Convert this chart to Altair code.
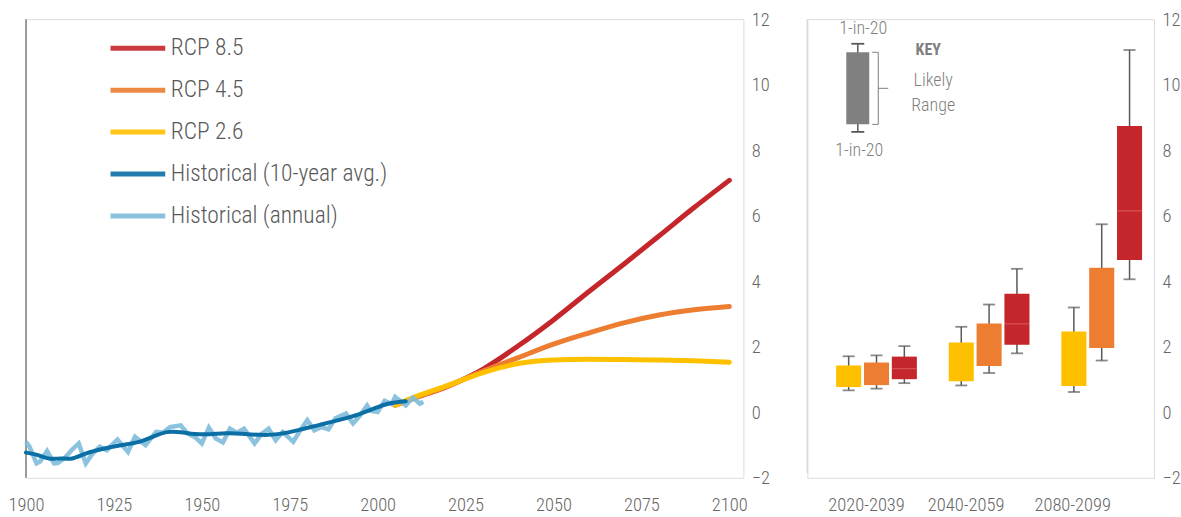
import altair as alt
import pandas as pd

FONT = "Roboto Condensed, Liberation Sans Narrow, DejaVu Sans Condensed, Roboto, sans-serif"
TXT = "#666666"

# ---------------- data ----------------
series_names = ["RCP 8.5", "RCP 4.5", "RCP 2.6", "Historical (10-year avg.)", "Historical (annual)"]
series_colors = ["#C4262B", "#ED7D31", "#FFC000", "#0B6FA6", "#7EBBDA"]

annual_years = [1900, 1901, 1903, 1904, 1906, 1908, 1909, 1911, 1913, 1915, 1917, 1919, 1921, 1923, 1924,
                1926, 1929, 1931, 1934, 1937, 1939, 1941, 1944, 1946, 1948, 1950, 1952, 1954, 1956, 1958,
                1960, 1962, 1965, 1967, 1969, 1971, 1973, 1976, 1978, 1980, 1982, 1984, 1986, 1988, 1991,
                1993, 1995, 1997, 1998, 2000, 2002, 2004, 2005, 2007, 2008, 2010, 2012, 2013]
annual_vals = [-0.90, -1.05, -1.56, -1.50, -1.18, -1.56, -1.55, -1.40, -1.15, -0.95, -1.56, -1.25, -1.05, -1.16, -1.05,
               -0.83, -1.21, -0.75, -1.00, -0.60, -0.62, -0.45, -0.40, -0.65, -0.75, -0.95, -0.47, -0.80, -0.92, -0.50,
               -0.62, -0.50, -0.95, -0.66, -0.50, -0.85, -0.60, -0.90, -0.55, -0.24, -0.55, -0.45, -0.52, -0.18, -0.04,
               -0.34, -0.10, 0.21, 0.05, 0.01, 0.35, 0.25, 0.47, 0.30, 0.21, 0.45, 0.26, 0.32]

avg_years = [1900, 1903, 1907, 1910, 1913, 1917, 1922, 1927, 1932, 1936, 1940, 1944, 1948, 1952, 1957,
             1961, 1967, 1972, 1978, 1984, 1989, 1995, 2000, 2003, 2008]
avg_vals = [-1.23, -1.28, -1.46, -1.38, -1.46, -1.24, -1.11, -1.00, -0.93, -0.75, -0.57, -0.60, -0.67, -0.68, -0.63,
            -0.65, -0.70, -0.68, -0.53, -0.37, -0.24, -0.06, 0.16, 0.28, 0.34]

proj_years = [2005, 2010, 2020, 2030, 2040, 2050, 2060, 2070, 2080, 2090, 2100]
rcp85 = [0.22, 0.42, 0.80, 1.32, 2.03, 2.82, 3.68, 4.52, 5.38, 6.25, 7.08]
rcp45 = [0.22, 0.42, 0.80, 1.26, 1.67, 2.08, 2.42, 2.73, 2.97, 3.13, 3.23]
rcp26 = [0.22, 0.44, 0.82, 1.21, 1.49, 1.60, 1.62, 1.61, 1.60, 1.57, 1.53]

periods = ["2020-2039", "2040-2059", "2080-2099"]
box_scenarios = ["RCP 2.6", "RCP 4.5", "RCP 8.5"]
# per period, per scenario (2.6, 4.5, 8.5)
whisker_low = [[0.67, 0.72, 0.89], [0.82, 1.20, 1.80], [0.62, 1.58, 4.06]]
box_low = [[0.77, 0.83, 1.01], [0.95, 1.41, 2.06], [0.80, 1.96, 4.65]]
box_high = [[1.43, 1.52, 1.70], [2.13, 2.71, 3.62], [2.47, 4.41, 8.74]]
whisker_high = [[1.71, 1.74, 2.02], [2.61, 3.29, 4.38], [3.20, 5.74, 11.06]]
median_85 = [1.33, 2.70, 6.15]

key_whisker_low, key_box_low, key_box_high, key_whisker_high = 8.56, 8.79, 10.99, 11.25

# ---------------- tables ----------------
proj_df = pd.DataFrame(
    [{"series": s, "year": y, "value": v}
     for s, vals in (("RCP 8.5", rcp85), ("RCP 4.5", rcp45), ("RCP 2.6", rcp26))
     for y, v in zip(proj_years, vals)]
)
ann_df = pd.DataFrame({"series": "Historical (annual)", "year": annual_years, "value": annual_vals})
avg_df = pd.DataFrame({"series": "Historical (10-year avg.)", "year": avg_years, "value": avg_vals})

rows = []
for pi, p in enumerate(periods):
    for si, s in enumerate(box_scenarios):
        rows.append({"period": p, "scenario": s,
                     "wl": whisker_low[pi][si], "bl": box_low[pi][si],
                     "bh": box_high[pi][si], "wh": whisker_high[pi][si]})
box_df = pd.DataFrame(rows)
med_df = pd.DataFrame({"period": periods, "scenario": "RCP 8.5", "med": median_85})

color_scale = alt.Scale(domain=series_names, range=series_colors)
yscale = alt.Scale(domain=[-2, 12], nice=False, zero=False)
yaxis = alt.Axis(orient="right", values=list(range(-2, 13, 2)), ticks=False, domain=False, grid=False,
                 labelPadding=8, labelFontSize=18.5, labelColor=TXT, labelFont=FONT, labelFontWeight=300,
                 title=None)

# ---------------- left panel ----------------
xscale = alt.Scale(domain=[1900, 2104], nice=False, zero=False)
xaxis = alt.Axis(values=[1900, 1925, 1950, 1975, 2000, 2025, 2050, 2075, 2100], format="d",
                 ticks=False, domain=False, grid=False, labelPadding=18, labelFontSize=18.5,
                 labelColor=TXT, labelFont=FONT, labelFontWeight=300, labelFlush=False, title=None)

left_line = alt.Chart(pd.DataFrame({"year": [1900], "lo": [-2], "hi": [12]})).mark_rule(
    color="#7F7F7F", strokeWidth=1.5).encode(
    x=alt.X("year:Q", scale=xscale, axis=xaxis),
    y=alt.Y("lo:Q", scale=yscale, axis=yaxis), y2="hi:Q")

proj = alt.Chart(proj_df).mark_line(strokeWidth=5, strokeCap="round", interpolate="monotone").encode(
    x=alt.X("year:Q", scale=xscale),
    y=alt.Y("value:Q", scale=yscale),
    color=alt.Color("series:N", scale=color_scale,
                    legend=alt.Legend(orient="none", legendX=82, legendY=-1, symbolType="stroke",
                                      symbolSize=3000, symbolStrokeWidth=5, labelFontSize=23.5,
                                      labelColor="#595959", labelFont=FONT, labelFontWeight=300,
                                      rowPadding=0, title=None, labelLimit=400, labelOffset=3)),
    order=alt.Order("series:N", sort="descending"),
)
ann = alt.Chart(ann_df).mark_line(strokeWidth=4.5, opacity=0.9).encode(
    x="year:Q", y="value:Q", color=alt.Color("series:N", scale=color_scale))
avg = alt.Chart(avg_df).mark_line(strokeWidth=4, strokeCap="round", interpolate="basis").encode(
    x="year:Q", y="value:Q", color=alt.Color("series:N", scale=color_scale))

left = alt.layer(left_line, proj, ann, avg).properties(width=718, height=459)

# ---------------- right panel ----------------
label_offset = {"condition": [{"test": "datum.value == '2020-2039'", "value": -10},
                              {"test": "datum.value == '2040-2059'", "value": -23}],
                "value": -29}
px = alt.X("period:N", sort=periods,
           scale=alt.Scale(paddingInner=0.283, paddingOuter=0.181, align=0.707),
           axis=alt.Axis(ticks=False, domain=False, grid=False, labelAngle=0, labelPadding=18,
                         labelFontSize=18.5, labelColor=TXT, labelFont=FONT, labelFontWeight=300,
                         title=None, labelOffset=label_offset))
pxo = alt.XOffset("scenario:N", sort=box_scenarios, scale=alt.Scale(paddingInner=0.1))

rline = alt.Chart(pd.DataFrame({"lo": [-1.85], "hi": [12]})).mark_rule(color="#D9D9D9", strokeWidth=1.5).encode(
    x=alt.value(0), y=alt.Y("lo:Q", scale=yscale, axis=yaxis), y2="hi:Q")

base = alt.Chart(box_df)
whisk = base.mark_rule(color="#595959", strokeWidth=1.5).encode(
    x=px, xOffset=pxo, y=alt.Y("wl:Q", scale=yscale), y2="wh:Q")
cap_lo = base.mark_tick(color="#595959", size=12, thickness=1.8).encode(x=px, xOffset=pxo, y="wl:Q")
cap_hi = base.mark_tick(color="#595959", size=12, thickness=1.8).encode(x=px, xOffset=pxo, y="wh:Q")
boxes = base.mark_bar().encode(
    x=px, xOffset=pxo, y="bl:Q", y2="bh:Q",
    color=alt.Color("scenario:N", scale=color_scale, legend=None))
med = alt.Chart(med_df).mark_tick(color="#E57373", thickness=1, size=24).encode(
    x=alt.X("period:N", sort=periods), xOffset=alt.XOffset("scenario:N", sort=box_scenarios), y="med:Q")

# key
kdf = pd.DataFrame({"wl": [key_whisker_low], "bl": [key_box_low], "bh": [key_box_high],
                    "wh": [key_whisker_high], "mid": [(key_box_low + key_box_high) / 2]})
kbase = alt.Chart(kdf)
GRAY = "#808080"
k_whisk = kbase.mark_rule(color="#595959", strokeWidth=1.5).encode(
    x=alt.value(50.5), y=alt.Y("wl:Q", scale=yscale), y2="wh:Q")
k_cap1 = kbase.mark_rule(color="#595959", strokeWidth=1.8).encode(x=alt.value(44), x2=alt.value(57), y="wl:Q")
k_cap2 = kbase.mark_rule(color="#595959", strokeWidth=1.8).encode(x=alt.value(44), x2=alt.value(57), y="wh:Q")
k_box = kbase.mark_rect(color=GRAY).encode(x=alt.value(39), x2=alt.value(62), y="bl:Q", y2="bh:Q")
k_br_v = kbase.mark_rule(color="#7F7F7F", strokeWidth=1).encode(x=alt.value(71), y="bl:Q", y2="bh:Q")
k_br_t = kbase.mark_rule(color="#7F7F7F", strokeWidth=1).encode(x=alt.value(65), x2=alt.value(71), y="bh:Q")
k_br_b = kbase.mark_rule(color="#7F7F7F", strokeWidth=1).encode(x=alt.value(65), x2=alt.value(71), y="bl:Q")
k_br_m = kbase.mark_rule(color="#7F7F7F", strokeWidth=1).encode(x=alt.value(71), x2=alt.value(81), y="mid:Q")

key_text_df = pd.DataFrame({
    "label": ["1-in-20", "1-in-20", "KEY", "Likely", "Range"],
    "val": [11.69, 7.98, 11.05, 10.12, 9.35],
})
k_txt = alt.Chart(key_text_df.iloc[[0]]).mark_text(font=FONT, fontSize=18, fontWeight=300, color="#7F7F7F").encode(
    x=alt.value(56), y="val:Q", text="label:N")
k_txt2 = alt.Chart(key_text_df.iloc[[1]]).mark_text(font=FONT, fontSize=18, fontWeight=300, color="#7F7F7F").encode(
    x=alt.value(52), y="val:Q", text="label:N")
k_txt3 = alt.Chart(key_text_df.iloc[[2]]).mark_text(font=FONT, fontSize=16, fontWeight="bold", color="#7F7F7F").encode(
    x=alt.value(121), y="val:Q", text="label:N")
k_txt4 = alt.Chart(key_text_df.iloc[[3, 4]]).mark_text(font=FONT, fontSize=18, fontWeight=300, color="#7F7F7F").encode(
    x=alt.value(126), y="val:Q", text="label:N")

right = alt.layer(rline, whisk, cap_lo, cap_hi, boxes, med,
                  k_whisk, k_cap1, k_cap2, k_box, k_br_v, k_br_t, k_br_b, k_br_m,
                  k_txt, k_txt2, k_txt3, k_txt4).properties(width=347, height=459)

chart = alt.hconcat(left, right, spacing=35).resolve_scale(color="shared").configure_view(
    stroke=None).configure(font=FONT).properties(
    padding={"left": 7, "top": 9, "right": 0, "bottom": 0}, background="white")

chart.save("out.html", embed_options={"renderer": "svg", "actions": False})
